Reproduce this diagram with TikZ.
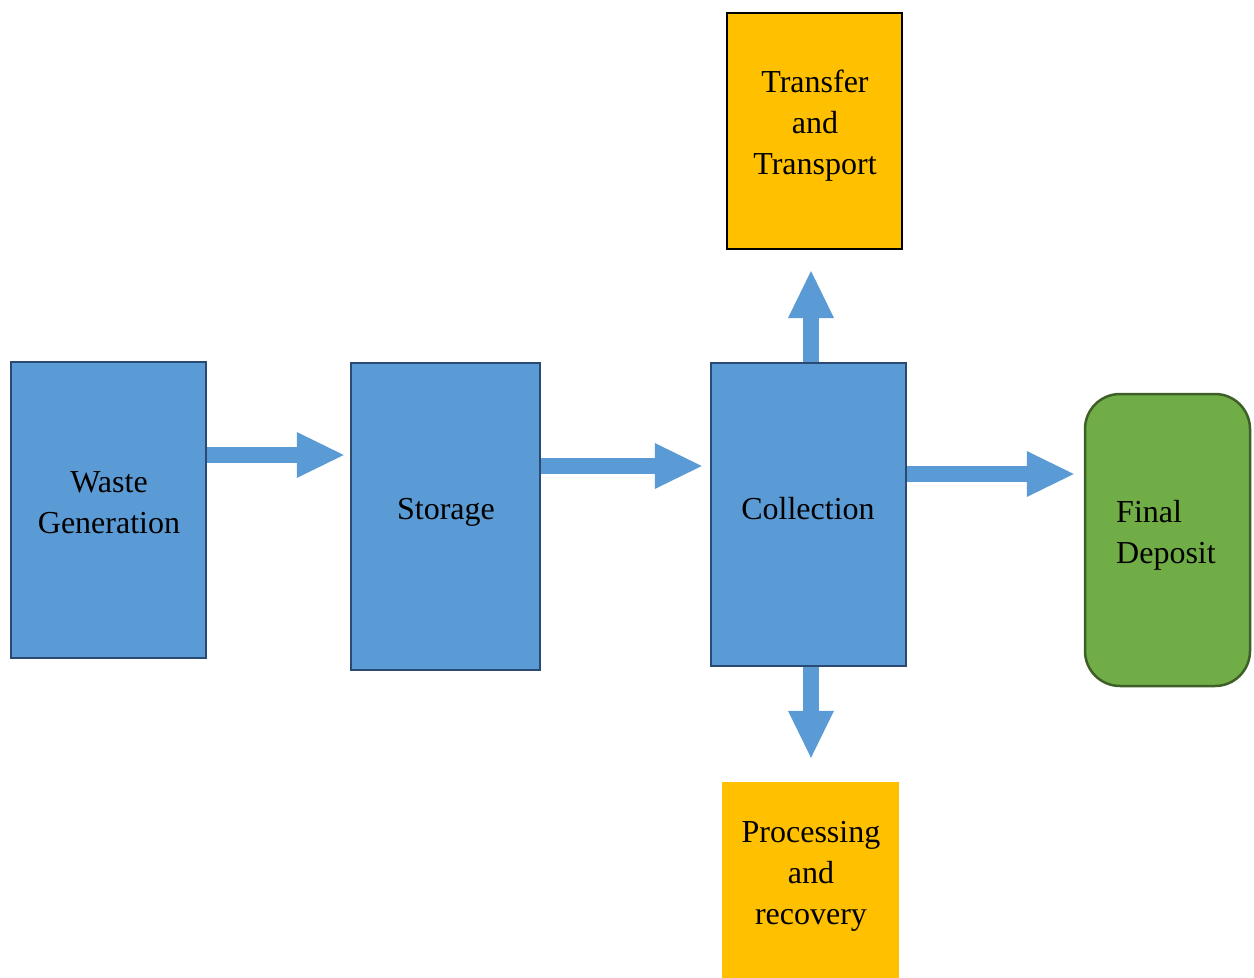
\documentclass[tikz,border=0pt]{standalone}
\usepackage{fontspec}
\setmainfont{Liberation Serif}
\usetikzlibrary{arrows.meta,calc}
\definecolor{boxblue}{HTML}{5B9BD5}
\definecolor{boxblueline}{HTML}{2A4A73}
\definecolor{boxorange}{HTML}{FFC000}
\definecolor{boxgreen}{HTML}{70AD47}
\definecolor{boxgreenline}{HTML}{3F5F28}
\begin{document}
\begin{tikzpicture}[x=1pt,y=-1pt,
  bluebox/.style={draw=boxblueline,fill=boxblue,line width=2.5pt,inner sep=0pt},
  orangebox/.style={fill=boxorange,inner sep=0pt},
  greenbox/.style={draw=boxgreenline,fill=boxgreen,line width=2.5pt,rounded corners=35pt,inner sep=0pt},
  lbl/.style={font=\fontsize{32}{41}\selectfont,align=center,inner sep=0pt},
  barrow/.style={draw=boxblue,line width=16pt,-{Triangle[length=47pt,width=46pt,line width=0pt]}}
]
\useasboundingbox (0,0) rectangle (1254,978);
% boxes
\node[bluebox,minimum width=195pt,minimum height=296pt] (wg) at (108.5,510) {};
\node[bluebox,minimum width=189pt,minimum height=307pt] (st) at (445.5,516.5) {};
\node[bluebox,minimum width=195pt,minimum height=303pt] (co) at (808.5,514.5) {};
\node[orangebox,draw=black,line width=2pt,minimum width=175pt,minimum height=236pt] (tr) at (814.5,131) {};
\node[orangebox,minimum width=177pt,minimum height=200pt] (pr) at (810.5,882) {};
\node[greenbox,minimum width=165pt,minimum height=292pt] (fd) at (1167.5,540) {};
% labels
\node[lbl] (wgl) at (109,503) {Waste\\Generation};
\node[lbl] (stl) at (446,512) {Storage};
\node[lbl] (col) at (808,509) {Collection};
\node[lbl] (trl) at (815,126) {Transfer\\and\\Transport};
\node[lbl] (prl) at (811,876) {Processing\\and\\recovery};
\node[lbl,align=left,anchor=west] (fdl) at (1116,535) {Final\\Deposit};
% arrows
\draw[barrow,shorten >=6pt] (wg.east |- 0,455) -- (st.west |- 0,455);
\draw[barrow,shorten >=8pt] (st.east |- 0,466) -- (co.west |- 0,466);
\draw[barrow,shorten >=10pt] (co.east |- 0,474) -- (fd.west |- 0,474);
\draw[barrow,shorten >=21pt] (co.north -| 811,0) -- (tr.south -| 811,0);
\draw[barrow,shorten >=24pt] (co.south -| 811,0) -- (pr.north -| 811,0);
\end{tikzpicture}
\end{document}
